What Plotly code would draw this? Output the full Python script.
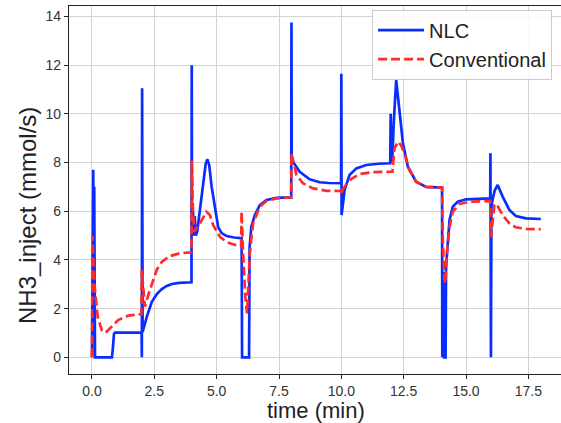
import plotly.graph_objects as go

# NLC controller: ammonia injection rate over time
t_nlc = [0.0, 0.02, 0.03, 0.05, 0.07, 0.09, 0.12, 0.80, 0.84, 0.88, 0.92, 1.99,
         2.0, 2.01, 2.03, 2.06, 2.2, 2.4, 2.6, 2.8, 3.0, 3.2, 3.5, 3.99,
         4.0, 4.01, 4.05, 4.08, 4.12, 4.16, 4.22, 4.33, 4.45, 4.56, 4.63, 4.7, 4.8,
         4.93, 5.06, 5.2, 5.4, 5.7, 6.0, 6.02, 6.3, 6.32, 6.39, 6.53, 6.73, 7.0,
         7.4, 7.99, 8.0, 8.01, 8.06, 8.33, 8.73, 9.13, 9.5, 9.99, 10.0, 10.01,
         10.13, 10.33, 10.6, 11.0, 11.5, 11.96, 11.98, 12.0, 12.05, 12.1, 12.2,
         12.33, 12.47, 12.67, 13.0, 13.4, 14.04, 14.05, 14.09, 14.12, 14.18,
         14.2, 14.27, 14.34, 14.47, 14.67, 15.0, 15.5, 15.97, 15.98, 16.0,
         16.02, 16.05, 16.15, 16.27, 16.47, 16.74, 17.0, 17.41, 18.0]
v_nlc = [0.0, 6.5, 2.0, 7.7, 3.0, 7.0, 0.0, 0.0, 0.4, 0.95, 1.01, 1.01,
         0.0, 11.05, 1.05, 1.15, 1.67, 2.28, 2.6, 2.8, 2.93, 3.01, 3.06, 3.08,
         12.0, 5.6, 6.0, 5.0, 5.8, 5.0, 5.16, 6.05, 7.2, 7.95, 8.13, 7.9, 7.0,
         6.2, 5.35, 5.1, 4.98, 4.92, 4.89, 0.0, 0.0, 4.5, 5.36, 5.84, 6.25, 6.46,
         6.55, 6.57, 13.75, 8.1, 8.03, 7.62, 7.31, 7.19, 7.16, 7.15, 11.65, 5.84,
         6.87, 7.49, 7.76, 7.9, 7.95, 7.97, 10.0, 8.0, 8.3, 9.6, 11.39,
         10.16, 8.79, 7.83, 7.21, 7.0, 6.97, 0.0, 3.5, 0.0, 0.0,
         3.72, 4.82, 5.64, 6.19, 6.39, 6.49, 6.52, 6.53, 8.38, 0.0,
         6.2, 6.4, 6.85, 7.08, 6.6, 6.05, 5.8, 5.71, 5.68]

# Conventional controller
t_conv = [0.0, 0.02, 0.05, 0.12, 0.23, 0.39, 0.55, 0.79, 1.05, 1.45, 1.98,
          2.0, 2.12, 2.3, 2.45, 2.6, 2.8, 3.1, 3.5, 3.99, 4.0, 4.05, 4.1, 4.2,
          4.33, 4.59, 4.73, 4.86, 5.0, 5.13, 5.39, 5.53, 5.98, 6.0, 6.05, 6.15,
          6.22, 6.33, 6.46, 6.73, 7.0, 7.4, 7.99, 8.0, 8.2, 8.46, 8.86, 9.4,
          9.99, 10.02, 10.06, 10.33, 10.73, 11.27, 12.05, 12.13, 12.27, 12.4,
          12.53, 12.73, 13.0, 13.4, 14.04, 14.07, 14.14, 14.17, 14.23, 14.34,
          14.47, 14.74, 15.14, 15.97, 16.0, 16.14, 16.22, 16.47, 16.74, 17.0,
          17.41, 18.0]
v_conv = [0.0, 4.98, 4.0, 2.76, 1.67, 1.12, 1.01, 1.26, 1.53, 1.71, 1.77,
          3.59, 2.08, 2.7, 3.17, 3.6, 3.92, 4.15, 4.27, 4.31, 8.1, 6.0, 5.16, 5.3,
          5.5, 5.98, 5.84, 5.43, 5.2, 4.95, 4.75, 4.68, 4.54, 5.98, 4.5, 2.5,
          1.8, 4.27, 5.5, 6.19, 6.42, 6.53, 6.57, 8.38, 7.49, 7.15, 6.94, 6.84,
          6.83, 6.7, 6.9, 7.28, 7.53, 7.61, 7.62, 8.58, 8.86, 8.7,
          8.38, 7.69, 7.21, 7.0, 6.97, 4.8, 3.17, 3.04, 4.27, 5.36,
          5.98, 6.3, 6.39, 6.42, 4.95, 6.25, 6.3, 5.84, 5.5, 5.34,
          5.27, 5.26]

y_ticks = [0, 2, 4, 6, 8, 10, 12, 14]
x_ticks = [0.0, 2.5, 5.0, 7.5, 10.0, 12.5, 15.0, 17.5]

FONT = "Liberation Sans, Arial, sans-serif"
INK = "#222222"

fig = go.Figure()
fig.add_trace(go.Scatter(x=t_nlc, y=v_nlc, mode="lines", name="NLC",
                         line=dict(color="#0a2dff", width=2.7)))
fig.add_trace(go.Scatter(x=t_conv, y=v_conv, mode="lines", name="Conventional",
                         line=dict(color="#ff2b2b", width=2.7, dash="9px,4px")))

fig.update_layout(
    width=561, height=423,
    margin=dict(l=69, r=0, t=6, b=49),
    paper_bgcolor="white", plot_bgcolor="white",
    font=dict(family=FONT, color=INK),
    showlegend=True,
    legend=dict(x=0.616, y=0.99, xanchor="left", yanchor="top",
                bgcolor="rgba(255,255,255,0.85)", bordercolor="#cccccc",
                borderwidth=1, font=dict(size=20, family=FONT, color=INK),
                itemwidth=46, tracegroupgap=0),
    annotations=[
        dict(text="NH3_inject (mmol/s)", xref="paper", yref="paper",
             x=-0.0854, y=0.432, textangle=-90, showarrow=False,
             font=dict(size=24, family=FONT, color=INK),
             xanchor="center", yanchor="middle"),
        dict(text="time (min)", xref="paper", yref="paper",
             x=0.502, y=-0.098, showarrow=False,
             font=dict(size=22, family=FONT, color=INK),
             xanchor="center", yanchor="middle"),
    ],
)

fig.update_xaxes(range=[-0.922, 18.81], tickmode="array", tickvals=x_ticks,
                 ticktext=[f"{v:.1f}" for v in x_ticks],
                 showgrid=True, gridcolor="#d3d3d3", gridwidth=1,
                 zeroline=False, showline=True, mirror=True,
                 linecolor=INK, linewidth=1.2,
                 ticks="outside", ticklen=4, tickcolor=INK,
                 tickfont=dict(size=14, family=FONT, color="#333333"))
fig.update_yaxes(range=[-0.686, 14.43], tickmode="array", tickvals=y_ticks,
                 showgrid=True, gridcolor="#d3d3d3", gridwidth=1,
                 zeroline=False, showline=True, mirror=False,
                 linecolor=INK, linewidth=1.2,
                 ticks="outside", ticklen=4, tickcolor=INK,
                 tickfont=dict(size=14, family=FONT, color="#333333"))

fig.write_html("out.html")
